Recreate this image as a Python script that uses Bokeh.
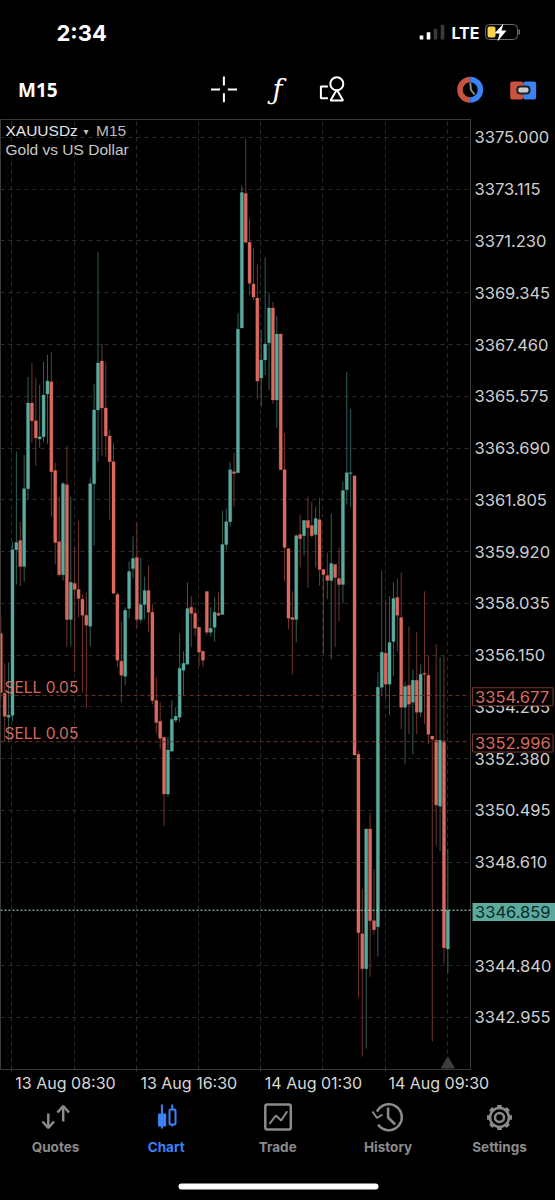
import math
from bokeh.plotting import figure
from bokeh.layouts import column
from bokeh.models import Range1d, FixedTicker, NumeralTickFormatter, Label, Span, ColumnDataSource, LinearAxis
from bokeh.core.properties import value
from bokeh.embed import file_html
from bokeh.resources import INLINE

opens = [3356.94,3354.76,3353.89,3353.96,3359.99,3360.32,3359.38,3362.21,3365.33,3364.68,3364.02,3364.10,3365.66,3366.10,3362.87,3360.28,3359.08,3362.35,3357.45,3358.76,
3358.54,3358.18,3357.60,3357.20,3362.39,3365.08,3366.86,3365.15,3364.13,3363.19,3358.36,3355.93,3355.38,3357.85,3359.30,3359.70,3357.45,3357.99,3358.50,3357.71,
3354.50,3353.74,3353.16,3351.09,3352.65,3353.78,3353.89,3355.60,3355.82,3357.89,3357.67,3357.16,3356.29,3358.47,3356.98,3357.16,3357.67,3357.63,3360.18,3361.01,
3362.83,3362.79,3368.06,3372.96,3371.18,3369.66,3369.15,3366.24,3366.90,3367.52,3368.79,3365.44,3367.84,3362.90,3360.03,3357.52,3357.45,3360.54,3360.50,3361.05,
3360.87,3360.54,3361.08,3359.27,3359.05,3358.87,3359.45,3358.94,3358.72,3362.17,3362.76,3362.68,3352.54,3346.00,3344.73,3349.82,3346.48,3346.26,3354.98,3356.22,
3355.09,3356.65,3358.25,3357.52,3354.25,3355.05,3354.43,3355.23,3354.07,3355.49,3355.42,3353.20,3353.05,3350.65,3353.02,3345.45]
highs = [3357.60,3355.85,3355.89,3360.28,3363.55,3361.01,3363.44,3366.28,3366.79,3366.24,3365.99,3366.83,3367.08,3367.19,3363.16,3361.92,3362.46,3363.77,3361.92,3360.10,
3361.05,3358.36,3358.43,3362.61,3366.02,3370.82,3367.48,3366.83,3364.35,3363.88,3358.43,3357.38,3357.89,3359.56,3360.47,3360.97,3359.70,3359.01,3359.41,3357.99,
3355.34,3354.43,3353.16,3353.16,3354.50,3354.25,3356.94,3356.29,3358.80,3358.29,3357.89,3357.16,3356.29,3358.47,3357.89,3358.25,3358.43,3361.41,3361.48,3363.19,
3363.52,3368.60,3373.25,3374.93,3372.06,3370.97,3370.38,3367.99,3370.64,3369.33,3369.00,3368.50,3367.84,3364.24,3360.03,3358.47,3360.54,3361.26,3361.08,3361.92,
3361.74,3361.55,3361.88,3359.27,3359.88,3361.30,3359.45,3360.07,3362.46,3366.46,3365.12,3362.68,3352.69,3347.64,3349.82,3350.40,3348.36,3355.52,3359.23,3358.18,
3358.29,3358.80,3358.94,3359.16,3355.19,3357.20,3355.63,3356.98,3355.81,3358.47,3356.14,3353.20,3356.54,3356.07,3356.14,3349.09]
lows = [3354.54,3352.98,3352.98,3353.74,3358.72,3358.65,3358.83,3361.81,3363.88,3363.04,3363.70,3363.91,3363.84,3361.19,3359.45,3359.01,3358.87,3356.44,3356.47,3355.53,
3357.52,3354.79,3354.21,3356.47,3360.14,3363.19,3363.41,3363.37,3361.08,3358.36,3355.71,3354.43,3355.05,3357.49,3358.94,3357.13,3357.34,3357.45,3356.98,3354.36,
3353.30,3352.72,3349.93,3350.98,3352.65,3353.70,3353.70,3354.65,3355.82,3356.44,3356.83,3355.75,3355.71,3356.87,3356.83,3356.65,3357.56,3357.63,3359.96,3360.83,
3361.55,3362.79,3368.06,3371.15,3369.26,3369.08,3365.48,3365.19,3366.35,3365.80,3365.30,3364.42,3362.90,3358.83,3357.09,3355.45,3356.61,3359.34,3359.78,3358.61,
3360.43,3359.34,3358.68,3356.18,3358.18,3356.00,3356.44,3357.38,3358.03,3361.63,3361.55,3352.51,3343.68,3341.53,3341.82,3344.44,3345.97,3345.17,3354.65,3354.61,
3353.96,3355.38,3356.29,3353.45,3352.18,3353.27,3352.54,3353.27,3353.89,3353.63,3352.91,3342.08,3349.20,3349.02,3344.91,3344.55]
closes = [3354.79,3353.92,3353.96,3359.99,3360.25,3359.38,3362.21,3365.33,3364.68,3364.06,3364.10,3365.62,3366.13,3362.83,3360.25,3359.08,3362.39,3357.45,3358.80,3358.54,
3358.21,3357.60,3357.24,3362.39,3365.08,3366.79,3365.15,3364.13,3363.19,3358.40,3355.96,3355.42,3357.78,3359.19,3359.67,3357.45,3357.99,3358.50,3357.71,3354.50,
3353.70,3353.12,3351.09,3352.69,3353.81,3353.92,3355.67,3355.85,3357.85,3357.67,3357.13,3356.26,3355.96,3356.98,3357.13,3357.71,3357.60,3360.18,3361.01,3362.90,
3362.76,3368.02,3373.00,3371.18,3369.69,3369.19,3366.13,3366.90,3367.48,3368.79,3365.44,3367.84,3362.90,3360.07,3357.49,3357.45,3360.50,3360.39,3361.05,3360.79,
3360.50,3361.12,3359.27,3359.08,3358.87,3359.49,3358.98,3358.72,3362.14,3362.79,3362.79,3352.51,3346.04,3344.73,3349.82,3346.48,3346.15,3354.98,3356.25,3355.09,
3356.61,3358.21,3357.60,3354.25,3355.01,3354.36,3355.23,3354.07,3355.45,3355.45,3353.27,3353.09,3350.69,3353.05,3345.49,3346.86]

price_ticks = [3375.000,3373.115,3371.230,3369.345,3367.460,3365.575,3363.690,3361.805,3359.920,3358.035,3356.150,3354.265,3352.380,3350.495,3348.610,3344.840,3342.955]
date_ticks = [2.85,34.85,66.85,98.85]
date_centres = [16.64,48.36,80.44,112.68]
date_labels = ["13 Aug 08:30","13 Aug 16:30","14 Aug 01:30","14 Aug 09:30"]
grid_x = [2.85,18.85,34.85,50.85,66.85,82.85,98.85,114.85]
order_prices = [3354.677,3352.996]
last_price = 3346.859
tab_names = ["Quotes","Chart","Trade","History","Settings"]

TEAL="#5BAA9E"; RED="#DA6A5E"; TEAL_W="#2F615B"; RED_W="#73352E"
UI="Inter"
idx=list(range(len(opens)))
up=[c>=o for o,c in zip(opens,closes)]
src=ColumnDataSource(dict(x=idx,o=opens,h=highs,l=lows,c=closes,
    body=[TEAL if u else RED for u in up],wick=[TEAL_W if u else RED_W for u in up]))

# ---- main chart -----
p=figure(width=555,height=976,output_backend="svg",toolbar_location=None,frame_align=False,
    x_range=Range1d(-0.085,120.83),y_range=Range1d(3341.06,3375.654),
    y_axis_location="right",background_fill_color="black",border_fill_color="black",
    min_border_left=0,min_border_right=85,min_border_top=0,min_border_bottom=24,
    outline_line_color="#3a3a3a",styles={"background-color":"black"})
p.segment("x","h","x","l",source=src,color="wick",line_width=1)
p.vbar(x="x",top="o",bottom="c",width=0.8,source=src,fill_color="body",line_color="body",line_width=0.3)
p.scatter([115],[3341.25],marker="triangle",size=13,color="#3c3c3c")

ya=p.yaxis[0]
ya.ticker=FixedTicker(ticks=price_ticks)
ya.formatter=NumeralTickFormatter(format="0.000")
ya.major_tick_line_color=None; ya.minor_tick_line_color=None; ya.axis_line_color=None
ya.major_tick_out=0; ya.major_tick_in=0
ya.major_label_text_color="#cfcfcf"; ya.major_label_text_font=UI; ya.major_label_text_font_size="16.5px"
ya.major_label_standoff=4
xa=p.xaxis[0]
xa.ticker=FixedTicker(ticks=date_ticks)
xa.major_label_overrides={t:"" for t in date_ticks}
xa.major_tick_line_color="#3a3a3a"; xa.major_tick_out=2; xa.major_tick_in=0; xa.minor_tick_line_color=None; xa.axis_line_color="#3a3a3a"
xa.major_label_text_font_size="1px"; xa.major_label_standoff=0
xl=LinearAxis(ticker=FixedTicker(ticks=date_centres),major_label_overrides=dict(zip(date_centres,date_labels)),
    major_tick_line_color=None,minor_tick_line_color=None,axis_line_color=None,major_tick_out=0,major_tick_in=0,
    major_label_text_color="#d8d8d8",major_label_text_font=UI,major_label_text_font_size="16px",major_label_standoff=1)
p.add_layout(xl,"below")

p.ygrid[0].ticker=FixedTicker(ticks=price_ticks); p.xgrid[0].ticker=FixedTicker(ticks=grid_x)
for g in (p.xgrid[0],p.ygrid[0]):
    g.grid_line_color="#2c2c2c"; g.grid_line_dash="4 4"; g.grid_line_width=1

for pr in order_prices:
    p.add_layout(Span(location=pr,dimension="width",line_color="#6e3028",line_dash="4 3",line_width=1))
p.add_layout(Span(location=last_price,dimension="width",line_color="#A5E6DC",line_dash="2 2",line_width=1.2))

for pr in order_prices:
    p.add_layout(Label(x=4,y=pr+0.30,x_units="screen",y_units="data",text="SELL 0.05",text_color=RED,
        text_font=UI,text_font_size="15.5px",text_baseline="middle"))
p.add_layout(Label(x=5,y=1071-132,x_units="screen",y_units="screen",text="XAUUSDz",text_color="#e6e6e6",text_font="Liberation Sans",text_font_size="15.5px",text_baseline="middle"))
p.add_layout(Label(x=83,y=1071-133,x_units="screen",y_units="screen",text="▾",text_color="#bdbdbd",text_font="DejaVu Sans",text_font_size="10px",text_baseline="middle"))
p.add_layout(Label(x=95.5,y=1071-132,x_units="screen",y_units="screen",text="M15",text_color="#bdbdbd",text_font="Liberation Sans",text_font_size="15.5px",text_baseline="middle"))
p.add_layout(Label(x=5,y=1071-151,x_units="screen",y_units="screen",text="Gold vs US Dollar",text_color="#c8c8c8",text_font="Liberation Sans",text_font_size="15.5px",text_baseline="middle"))

# ---- price boxes, laid over the price axis, on the chart's own price scale -----
o=figure(width=85,height=952,output_backend="svg",toolbar_location=None,frame_align=False,
    x_range=Range1d(0,85),y_range=p.y_range,x_axis_type=None,y_axis_type=None,
    background_fill_alpha=0,border_fill_alpha=0,min_border=0,outline_line_color=None,
    styles={"position":"absolute","left":"470px","top":"119px"})
o.grid.visible=False
hw=0.327
for pr in order_prices:
    o.quad(left=2,right=82.5,top=pr+hw,bottom=pr-hw,fill_color="black",line_color="#7a342c",line_width=1)
    o.text([4.5],[pr],text=["%.3f"%pr],text_color=RED,text_font=value(UI),text_font_size="16.5px",text_baseline="middle")
o.quad(left=2,right=85,top=last_price+hw,bottom=last_price-hw,fill_color=TEAL,line_color=None)
o.text([4.5],[last_price],text=["%.3f"%last_price],text_color="#0c2a26",text_font=value(UI),text_font_size="16.5px",text_baseline="middle")

# ---- chrome helpers -----
def chrome(h,y0):
    f=figure(width=555,height=h,output_backend="svg",toolbar_location=None,frame_align=False,x_range=Range1d(0,555),y_range=Range1d(y0+h,y0),
        x_axis_type=None,y_axis_type=None,background_fill_color="black",border_fill_color="black",
        min_border=0,outline_line_color="black")
    f.grid.visible=False
    return f
def txt(f,x,y,s,size,color="white",font=UI,style="normal",align="left"):
    f.text([x],[y],text=[s],text_color=color,text_font=value(font),text_font_size=size,text_font_style=style,text_align=align,text_baseline="middle")

# ---- top bar -----
t=chrome(119,0)
txt(t,56,32,"2:34","22px",style="bold")
for x,y,c in zip([421,428,435,442],[35,31.7,28.3,24.3],["white","white","#3a3a3a","#3a3a3a"]):
    t.quad(left=x-1.8,right=x+1.8,top=y,bottom=39,fill_color=c,line_color=None)
txt(t,451,32,"LTE","16px",style="bold")
t.quad(left=485,right=517,top=24,bottom=39,fill_color="black",line_color="#6a6a6a",border_radius=4)
t.quad(left=487,right=495,top=26,bottom=37,fill_color="#F5D34A",line_color=None,border_radius=2)
t.patch([503,494,499,497,506,501],[23,33,33,41,30,30],fill_color="white",line_color=None)
t.quad(left=518,right=519.5,top=29,bottom=34,fill_color="#6a6a6a",line_color=None)
txt(t,17.5,89,"M15","19px",font="Noto Sans",style="bold")
t.segment([210.6,227.3,223.4,223.4],[89,89,76,92.7],[219.5,236.5,223.4,223.4],[89,89,85,101.7],line_color="white",line_width=2)
txt(t,277,89,"ƒ","27px",font="DejaVu Serif",style="italic",align="center")
t.circle([336.3],[83.3],radius=6.5,fill_color=None,line_color="white",line_width=2)
t.patch([330,342.6,336.3],[100,100,89.3],fill_color=None,line_color="white",line_width=2)
t.line([327.4,320.4,320.4,327.4],[86,86,97.7,97.7],line_color="white",line_width=2)
t.annular_wedge([469.7],[89.3],inner_radius=7.5,outer_radius=13,start_angle=1.57,end_angle=4.71,fill_color="#C8543F",line_color=None)
t.annular_wedge([469.7],[89.3],inner_radius=7.5,outer_radius=13,start_angle=4.71,end_angle=1.57,fill_color="#3B82F6",line_color=None)
t.line([469.7,470.5,474],[82,89.5,94],line_color="#8a8a8a",line_width=2)
t.quad(left=509.7,right=522.7,top=81,bottom=99,fill_color="#C8543F",line_color=None,border_radius=2)
t.quad(left=522.7,right=535.6,top=81,bottom=99,fill_color="#3B82F6",line_color=None,border_radius=2)
t.quad(left=516.8,right=529,top=86,bottom=93,fill_color="#c8c8c8",line_color="#222222",line_width=2,border_radius=3)

# ---- bottom bar -----
b=chrome(105,1095)
GR="#8b8b8b"; BL="#3B82F6"
for x,s,c in zip([55,165.7,277.2,387.6,499],tab_names,[GR,BL,GR,GR,GR]):
    txt(b,x,1146,s,"13.5px",color=c,style="bold",align="center")
b.line([47.8,47.8],[1113,1127],line_color=GR,line_width=2.5); b.line([42,47.8,53.5],[1121,1127.5,1121],line_color=GR,line_width=2.5)
b.line([62.7,62.7],[1106,1121],line_color=GR,line_width=2.5); b.line([57,62.7,68.5],[1112,1105.5,1112],line_color=GR,line_width=2.5)
b.segment([161.4,171.7],[1104,1104],[161.4,171.7],[1128,1126],line_color=BL,line_width=2)
b.quad(left=157.5,right=165.7,top=1113,bottom=1126,fill_color=BL,line_color=None,border_radius=1)
b.quad(left=169,right=175,top=1109,bottom=1124,fill_color="black",line_color=BL,line_width=2,border_radius=1)
b.quad(left=264.8,right=290.3,top=1104,bottom=1129,fill_color=None,line_color=GR,line_width=2.5,border_radius=2)
b.line([269,275.4,280.7,286.7],[1123.3,1115,1120,1110.7],line_color=GR,line_width=2)
arc_a=[math.radians(a) for a in range(205,515,10)]
b.line([388.3+13*math.cos(a) for a in arc_a],[1116.7+13*math.sin(a) for a in arc_a],line_color=GR,line_width=2.5)
b.line([372,376.5,382],[1111,1117.5,1114],line_color=GR,line_width=2)
b.line([387.6,387.6,394.7],[1107,1117,1124],line_color=GR,line_width=2.5)
b.circle([499],[1117],radius=9.5,fill_color=None,line_color=GR,line_width=2.5)
teeth=[math.radians(a) for a in range(0,360,45)]
b.segment([499+9.5*math.cos(a) for a in teeth],[1117+9.5*math.sin(a) for a in teeth],
          [499+12.5*math.cos(a) for a in teeth],[1117+12.5*math.sin(a) for a in teeth],line_color=GR,line_width=4.5)
b.circle([499],[1117],radius=4.5,fill_color=None,line_color=GR,line_width=2.5)
b.line([181,375],[1186,1186],line_color="white",line_width=6,line_cap="round")

page=column(t,p,b,o,spacing=0,styles={"position":"absolute","left":"0","top":"0","background-color":"black"})
open("out.html","w").write(file_html(page,INLINE))
